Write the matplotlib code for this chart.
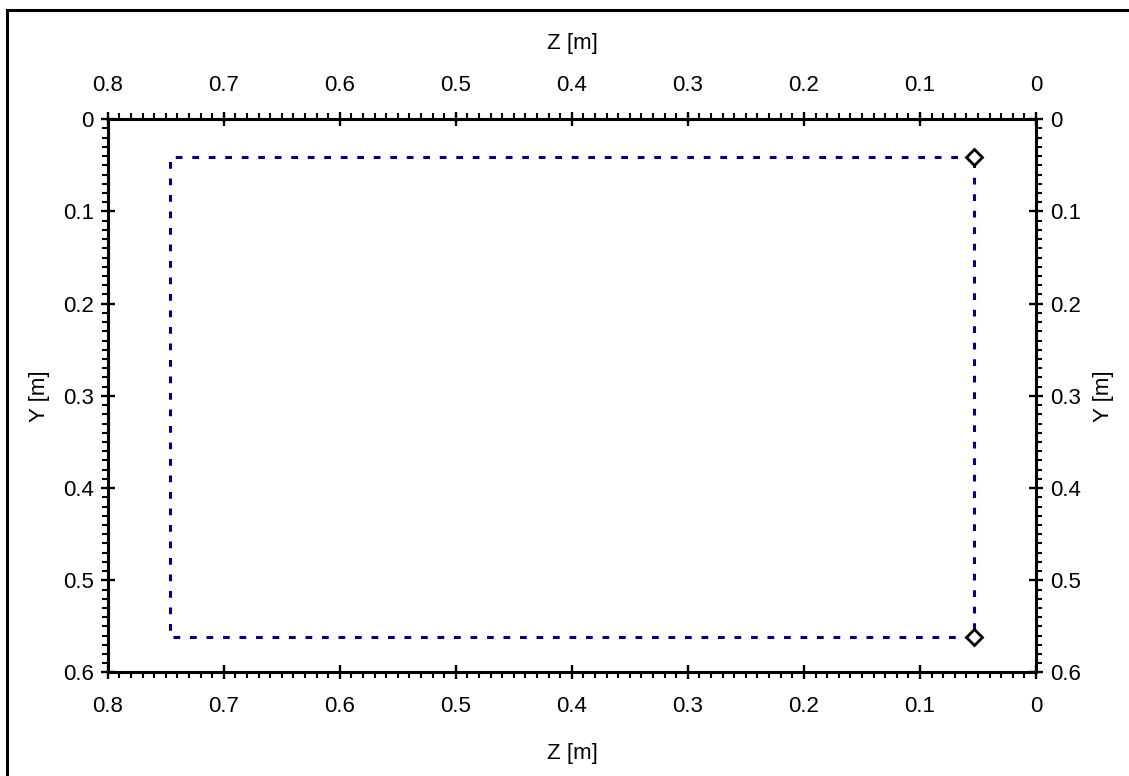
import matplotlib
matplotlib.use("Agg")
import matplotlib.pyplot as plt
from matplotlib.patches import Rectangle
from matplotlib.ticker import MultipleLocator

plt.rcParams['font.family'] = ['Liberation Sans', 'DejaVu Sans']

# path of the scan (Z, Y) in metres
path_z = [0.053, 0.746, 0.746, 0.053, 0.053]
path_y = [0.041, 0.041, 0.562, 0.562, 0.041]

# marked points
point_z = [0.053, 0.053]
point_y = [0.041, 0.562]

z_ticks = [0.8, 0.7, 0.6, 0.5, 0.4, 0.3, 0.2, 0.1, 0]
z_labels = ['0.8', '0.7', '0.6', '0.5', '0.4', '0.3', '0.2', '0.1', '0']
y_ticks = [0, 0.1, 0.2, 0.3, 0.4, 0.5, 0.6]
y_labels = ['0', '0.1', '0.2', '0.3', '0.4', '0.5', '0.6']

W, H = 1129, 776
fig = plt.figure(figsize=(W / 100, H / 100), dpi=100)
ax = fig.add_axes([0.0954, 0.1334, 0.8222, 0.7129])

ax.plot(path_z, path_y, color='#000080', lw=2.2, linestyle=(0, (2.2, 3.2)), zorder=2)
ax.plot(point_z, point_y, linestyle='none', marker='D', ms=8.5, mfc='white',
        mec='black', mew=2, zorder=3)

ax.set_xlim(0.8, 0)
ax.set_ylim(0.6, 0)

ax.set_xticks(z_ticks)
ax.set_xticklabels(z_labels)
ax.set_yticks(y_ticks)
ax.set_yticklabels(y_labels)
ax.xaxis.set_minor_locator(MultipleLocator(0.01))
ax.yaxis.set_minor_locator(MultipleLocator(0.01))

ax.tick_params(which='major', direction='inout', length=10, width=1.7,
               top=True, bottom=True, left=True, right=True,
               labeltop=True, labelbottom=True, labelleft=True, labelright=True,
               labelsize=16)
ax.tick_params(axis='x', which='major', pad=12)
ax.tick_params(axis='y', which='major', pad=5)
ax.tick_params(which='minor', direction='out', length=4.5, width=1.5,
               top=True, bottom=True, left=True, right=True)

for s in ax.spines.values():
    s.set_linewidth(2.2)

# axis titles on all four sides
fig.text(572 / W, 1 - 44 / H, 'Z [m]', fontsize=16, ha='center', va='center')
fig.text(572 / W, 1 - 753 / H, 'Z [m]', fontsize=16, ha='center', va='center')
fig.text(40 / W, 1 - 396 / H, 'Y [m]', fontsize=16, ha='center', va='center',
         rotation=90)
fig.text(1104 / W, 1 - 396 / H, 'Y [m]', fontsize=16, ha='center', va='center',
         rotation=90)

# outer frame (top and left edges visible)
fig.add_artist(Rectangle((6.5 / W, -0.1), 1.2, 1 - 10 / H + 0.1,
                         transform=fig.transFigure, fill=False,
                         edgecolor='black', lw=2.2))

fig.savefig('out.png', dpi=100)
